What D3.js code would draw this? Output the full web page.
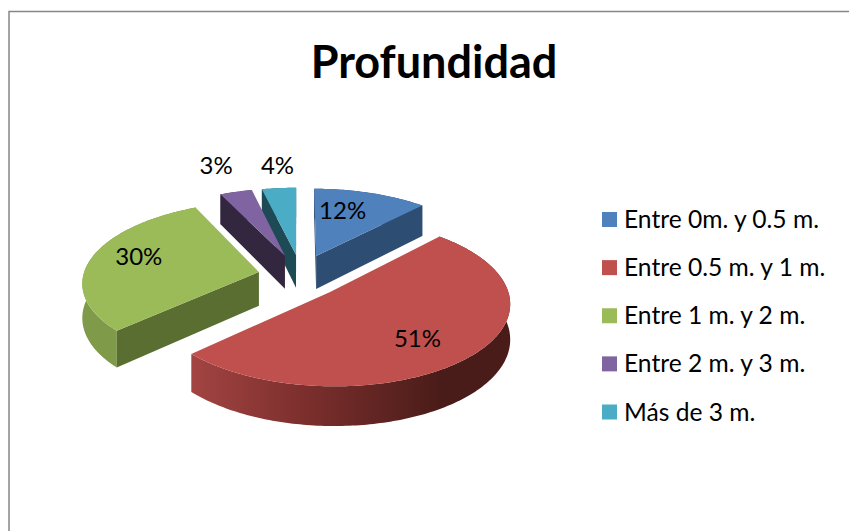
<!DOCTYPE html>
<html><head><meta charset="utf-8">
<script src="https://cdn.jsdelivr.net/npm/d3@7"></script>
<style>html,body{margin:0;padding:0;background:#fff}svg{display:block}text{font-family:Lato,Carlito,Calibri,sans-serif;fill:#000}</style>
</head><body><svg id="c" width="849" height="531"></svg>
<script>
const titleText = "Profundidad";
const categories = ["Entre 0m. y 0.5 m.","Entre 0.5 m. y 1 m.","Entre 1 m. y 2 m.","Entre 2 m. y 3 m.","Más de 3 m."];
const values = [12, 51, 30, 3.4, 3.6];
const topColors = ["#4f81bd","#c0504d","#9bbb59","#8064a2","#4bacc6"];
const faceColors = ["#2e4d73","#5a2220","#5b6e32","#33263f","#1e4a55"];
const wallColors = ["#2e4d73","url(#redWall)","#7f9a48","#4a3a60","#2b6a7a"];

const W=849,H=531,Cx=297.7,Cy=275.3,R=175.6,Q=79.6,K=0.12,D=34;
const explode=[[.108,-.25],[.18,.205],[-.222,-.042],[-.075,-.254],[-.01,-.267]];
const radiusScale=[1,.99,1,1,1];
const labelFrac=[.7,.6,.6,1.3,1.3];
const labelNudge=[[-13,0],[5,9],[-19,-7],[-7,-10],[3,-5]];

const svg=d3.select("#c");
svg.append("path").attr("d",d3.line()([[9,531],[9,11.5],[849,11.5]])).attr("fill","none").attr("stroke","#868686").attr("stroke-width",1.5);
const grad=svg.append("defs").append("linearGradient").attr("id","redWall").attr("gradientUnits","userSpaceOnUse")
 .attr("x1",192).attr("x2",440).attr("y1",0).attr("y2",0);
[[0,"#a24442"],[.45,"#7c2f2d"],[1,"#4a1c19"]].forEach(s=>grad.append("stop").attr("offset",s[0]).attr("stop-color",s[1]));

function proj(u,v,z){const s=1/(1-K*v);return [Cx+R*u*s,Cy+Q*v*s+z*D*s];}
const pie=d3.pie().sort(null).value(d=>d)(values);
const line=d3.line();
const slices=pie.map((p,i)=>{
  const [ox,oy]=explode[i],r=radiusScale[i];
  const n=Math.max(2,Math.ceil((p.endAngle-p.startAngle)/(Math.PI/180)));
  const angs=d3.range(n+1).map(j=>p.startAngle+(p.endAngle-p.startAngle)*j/n);
  const pt=(a,z)=>proj(ox+r*Math.sin(a),oy-r*Math.cos(a),z);
  return {i,ox,oy,p,angs,pt,apex:z=>proj(ox,oy,z)};
}).sort((a,b)=>a.oy-b.oy);

function faceVisible(s,a){
  const P=s.apex(0),O=s.pt(a,0),m=(s.p.startAngle+s.p.endAngle)/2,C=s.pt(m,0);
  const dx=O[0]-P[0],dy=O[1]-P[1];
  const side=dx*(C[1]-P[1])-dy*(C[0]-P[0]);
  const down=dx;
  return side*down<0;
}
const g=svg.append("g");
slices.forEach(s=>{
  const wall=s.angs.map(a=>s.pt(a,0)).concat(s.angs.slice().reverse().map(a=>s.pt(a,1)));
  g.append("path").attr("d",line(wall)+"Z").attr("fill",wallColors[s.i]);
  [s.p.startAngle,s.p.endAngle].forEach(a=>{
    if(!faceVisible(s,a))return;
    g.append("path").attr("d",line([s.apex(0),s.pt(a,0),s.pt(a,1),s.apex(1)])+"Z").attr("fill",faceColors[s.i]);
  });
  const top=[s.apex(0)].concat(s.angs.map(a=>s.pt(a,0)));
  g.append("path").attr("d",line(top)+"Z").attr("fill",topColors[s.i]);
});
slices.forEach(s=>{
  const m=(s.p.startAngle+s.p.endAngle)/2,f=labelFrac[s.i];
  const c=proj(s.ox+f*Math.sin(m),s.oy-f*Math.cos(m),0);
  svg.append("text").attr("x",c[0]+labelNudge[s.i][0]).attr("y",c[1]+labelNudge[s.i][1]).attr("dy","0.35em")
   .attr("text-anchor","middle").attr("font-size",24).text(Math.round(values[s.i])+"%");
});
svg.append("text").attr("x",434).attr("y",78).attr("text-anchor","middle").attr("font-size",45).attr("font-weight",700).text(titleText);
const legendY=d3.scalePoint().domain(categories).range([219.5,412]);
const lg=svg.append("g");
categories.forEach((c,i)=>{
  const y=legendY(c);
  lg.append("rect").attr("x",602).attr("y",y-7.5).attr("width",15).attr("height",15).attr("fill",topColors[i]);
  lg.append("text").attr("x",624).attr("y",y).attr("dy","0.35em").attr("font-size",24.6).text(c);
});
</script></body></html>
